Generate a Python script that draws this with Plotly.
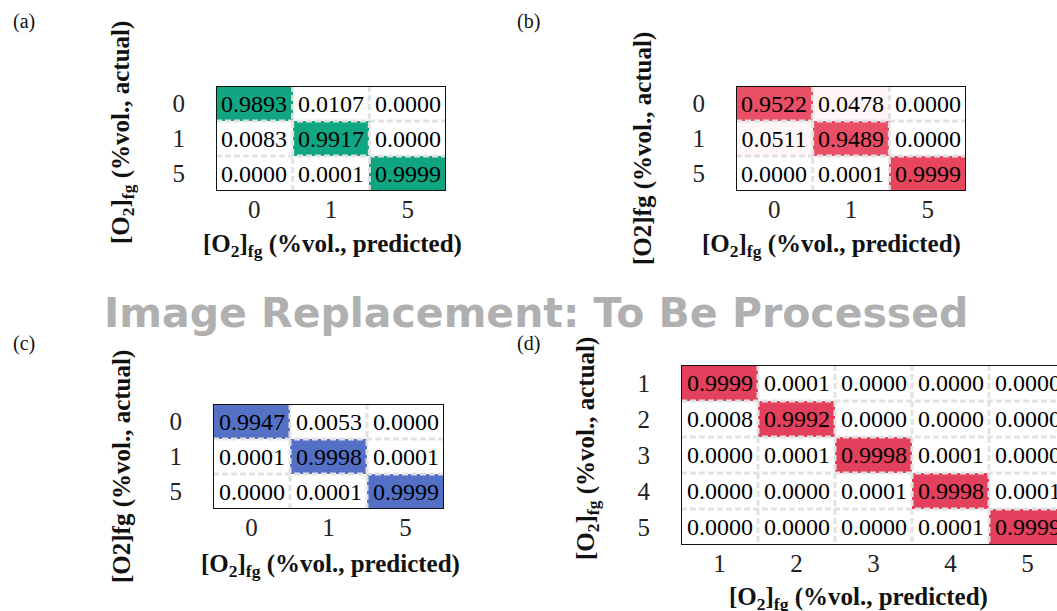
import plotly.graph_objects as go

W, H = 1057, 611

# ---- data ----
labels_abc = ["0", "1", "5"]
labels_d = ["1", "2", "3", "4", "5"]

z_a = [[0.9893, 0.0107, 0.0000],
       [0.0083, 0.9917, 0.0000],
       [0.0000, 0.0001, 0.9999]]
z_b = [[0.9522, 0.0478, 0.0000],
       [0.0511, 0.9489, 0.0000],
       [0.0000, 0.0001, 0.9999]]
z_c = [[0.9947, 0.0053, 0.0000],
       [0.0001, 0.9998, 0.0001],
       [0.0000, 0.0001, 0.9999]]
z_d = [[0.9999, 0.0001, 0.0000, 0.0000, 0.0000],
       [0.0008, 0.9992, 0.0000, 0.0000, 0.0000],
       [0.0000, 0.0001, 0.9998, 0.0001, 0.0000],
       [0.0000, 0.0000, 0.0001, 0.9998, 0.0001],
       [0.0000, 0.0000, 0.0000, 0.0001, 0.9999]]

SERIF = "Liberation Serif, Times New Roman, serif"

def px(x): return x / W
def py(y): return 1 - y / H

panels = [
    dict(z=z_a, labels=labels_abc, color="#0ea580", xd=(216, 446), yd=(86, 191), xmax=None),
    dict(z=z_b, labels=labels_abc, color="#e8465f", xd=(736, 966), yd=(86, 191), xmax=None),
    dict(z=z_c, labels=labels_abc, color="#5470c6", xd=(213, 444), yd=(404, 509), xmax=None),
    dict(z=z_d, labels=labels_d, color="#e2405c", xd=(681, 1057), yd=(365, 545), xmax=-0.5 + (1057 - 681) / 77.0),
]

fig = go.Figure()
shapes = []
for i, p in enumerate(panels):
    n = len(p["labels"])
    idx = list(range(n))
    xa = "x" if i == 0 else f"x{i+1}"
    ya = "y" if i == 0 else f"y{i+1}"
    fig.add_trace(go.Heatmap(
        z=p["z"], x=idx, y=idx,
        colorscale=[[0, "#ffffff"], [1, p["color"]]], zmin=0, zmax=1,
        showscale=False, texttemplate="%{z:.4f}",
        textfont=dict(family=SERIF, size=24, color="black"),
        hoverinfo="skip", xaxis=xa, yaxis=ya))
    xmax = p["xmax"] if p["xmax"] is not None else n - 0.5
    axk = "xaxis" if i == 0 else f"xaxis{i+1}"
    ayk = "yaxis" if i == 0 else f"yaxis{i+1}"
    fig.update_layout({
        axk: dict(domain=[px(p["xd"][0]), px(p["xd"][1])], range=[-0.5, xmax],
                  anchor=ya, tickmode="array", tickvals=idx, ticktext=p["labels"],
                  ticks="", ticklabelstandoff=1,
                  tickfont=dict(family=SERIF, size=25, color="#222"),
                  showgrid=False, zeroline=False, showline=False),
        ayk: dict(domain=[py(p["yd"][1]), py(p["yd"][0])], range=[n - 0.5, -0.5],
                  anchor=xa, tickmode="array", tickvals=idx, ticktext=p["labels"],
                  ticks="", ticklabelstandoff=30,
                  tickfont=dict(family=SERIF, size=25, color="#222"),
                  showgrid=False, zeroline=False, showline=False),
    })
    # dashed internal cell separators
    for k in range(n - 1):
        b = k + 0.5
        shapes.append(dict(type="line", xref=xa, yref=ya, x0=b, x1=b, y0=-0.5, y1=n - 0.5,
                           line=dict(color="#e2e2e2", width=3, dash="6px,3px"), layer="above"))
        shapes.append(dict(type="line", xref=xa, yref=ya, x0=-0.5, x1=n - 0.5, y0=b, y1=b,
                           line=dict(color="#e2e2e2", width=3, dash="6px,3px"), layer="above"))
    # outer black border
    shapes.append(dict(type="rect", xref=xa, yref=ya, x0=-0.5, x1=n - 0.5, y0=-0.5, y1=n - 0.5,
                       line=dict(color="#111", width=2), fillcolor="rgba(0,0,0,0)", layer="above"))

ann = []
def text(x, y, s, size, angle=0, family=SERIF, color="#111"):
    ann.append(dict(x=px(x), y=py(y), xref="paper", yref="paper", text=s,
                    showarrow=False, textangle=angle, xanchor="center", yanchor="middle",
                    font=dict(family=family, size=size, color=color)))

xt = "<b>[O<sub>2</sub>]<sub>fg</sub> (%vol., predicted)</b>"
yt_sub = "<b>[O<sub>2</sub>]<sub>fg</sub> (%vol., actual)</b>"
yt_plain = "<b>[O2]fg (%vol., actual)</b>"

text(24, 22, "(a)", 20)
text(528, 22, "(b)", 20)
text(24, 343, "(c)", 20)
text(528, 343, "(d)", 20)

text(332, 246, xt, 25)
text(831, 246, xt, 25)
text(330, 565, xt, 25)
text(858, 598, xt, 25)

text(122, 133, yt_sub, 25, angle=-90)
text(643, 149, yt_plain, 25, angle=-90)
text(122, 467, yt_plain, 25, angle=-90)
text(587, 449, yt_sub, 25, angle=-90)

text(536, 313, "<b>Image Replacement: To Be Processed</b>", 41,
     family="DejaVu Sans, Verdana, sans-serif", color="#b0b0b0")

fig.update_layout(width=W, height=H, margin=dict(l=0, r=0, t=0, b=0),
                  paper_bgcolor="white", plot_bgcolor="white",
                  shapes=shapes, annotations=ann, showlegend=False)

fig.write_html("out.html")
